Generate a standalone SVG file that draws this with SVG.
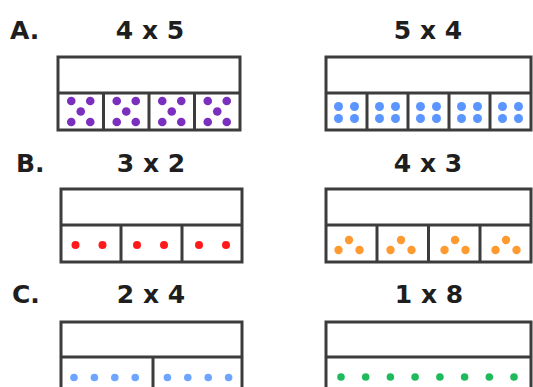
<svg xmlns="http://www.w3.org/2000/svg" width="533" height="387" viewBox="0 0 533 387">
<style>
.t{font-family:"DejaVu Sans","Liberation Sans",sans-serif;font-weight:bold;font-size:25px;fill:#1e1e1e}
.c{text-anchor:middle}
.f{fill:#fff;stroke:#3c3c3c;stroke-width:3}
.l{stroke:#3c3c3c;stroke-width:3;fill:none}
.pu{fill:#7b2fbe}.bl{fill:#5b95ff}.rd{fill:#ff1a1a}.or{fill:#ff9a30}.lb{fill:#6ea6ff}.gr{fill:#1fba5c}
</style>
<defs>
<g id="px"><circle cx="-9.5" cy="-10.5" r="4.3"/><circle cx="9.5" cy="-10.5" r="4.3"/><circle cx="0" cy="0" r="4.3"/><circle cx="-9.5" cy="10.5" r="4.3"/><circle cx="9.5" cy="10.5" r="4.3"/></g>
<g id="b4"><circle cx="-8" cy="-6" r="4.5"/><circle cx="8" cy="-6" r="4.5"/><circle cx="-8" cy="6" r="4.5"/><circle cx="8" cy="6" r="4.5"/></g>
<g id="r2"><circle cx="-13.5" cy="0" r="4"/><circle cx="13.5" cy="0" r="4"/></g>
<g id="o3"><circle cx="0" cy="-5" r="4.2"/><circle cx="-10.5" cy="5" r="4.2"/><circle cx="10.5" cy="5" r="4.2"/></g>
<g id="l4"><circle cx="-30.6" cy="0" r="3.8"/><circle cx="-10.2" cy="0" r="3.8"/><circle cx="10.2" cy="0" r="3.8"/><circle cx="30.6" cy="0" r="3.8"/></g>
</defs>

<g id="labelA"><text class="t" x="10" y="39">A.</text></g>
<g id="labelB"><text class="t" x="16" y="172">B.</text></g>
<g id="labelC"><text class="t" x="12" y="303">C.</text></g>

<g id="A1">
<text class="t c" x="150" y="39">4 x 5</text>
<rect class="f" x="58" y="57" width="182" height="73"/>
<path class="l" d="M58 93H240M103.5 93V130M149 93V130M194.5 93V130"/>
<g class="pu">
<use href="#px" x="80.75" y="111.5"/><use href="#px" x="126.25" y="111.5"/><use href="#px" x="171.75" y="111.5"/><use href="#px" x="217.25" y="111.5"/>
</g>
</g>

<g id="A2">
<text class="t c" x="428" y="39">5 x 4</text>
<rect class="f" x="326" y="57" width="205" height="73"/>
<path class="l" d="M326 93H531M367 93V130M408 93V130M449 93V130M490 93V130"/>
<g class="bl">
<use href="#b4" x="346.5" y="112.5"/><use href="#b4" x="387.5" y="112.5"/><use href="#b4" x="428.5" y="112.5"/><use href="#b4" x="469.5" y="112.5"/><use href="#b4" x="510.5" y="112.5"/>
</g>
</g>

<g id="B1">
<text class="t c" x="151" y="172">3 x 2</text>
<rect class="f" x="61" y="189" width="181" height="73"/>
<path class="l" d="M61 225H242M121 225V262M182 225V262"/>
<g class="rd">
<use href="#r2" x="89" y="245"/><use href="#r2" x="150.5" y="245"/><use href="#r2" x="212.5" y="245"/>
</g>
</g>

<g id="B2">
<text class="t c" x="428" y="172">4 x 3</text>
<rect class="f" x="326" y="189" width="205" height="73"/>
<path class="l" d="M326 225H531M377 225V262M428.5 225V262M480 225V262"/>
<g class="or">
<use href="#o3" x="349" y="245"/><use href="#o3" x="401" y="245"/><use href="#o3" x="455" y="245"/><use href="#o3" x="506" y="245"/>
</g>
</g>

<g id="C1">
<text class="t c" x="151" y="303">2 x 4</text>
<rect class="f" x="61" y="322" width="181" height="76"/>
<path class="l" d="M61 357H242M153 357V398"/>
<g class="lb">
<use href="#l4" x="104.6" y="377.5"/><use href="#l4" x="198" y="377.5"/>
</g>
</g>

<g id="C2">
<text class="t c" x="429" y="303">1 x 8</text>
<rect class="f" x="326" y="322" width="205" height="76"/>
<path class="l" d="M326 357H531"/>
<g class="gr">
<circle cx="341" cy="377" r="3.8"/><circle cx="365.7" cy="377" r="3.8"/><circle cx="390.4" cy="377" r="3.8"/><circle cx="415.1" cy="377" r="3.8"/><circle cx="439.9" cy="377" r="3.8"/><circle cx="464.6" cy="377" r="3.8"/><circle cx="489.3" cy="377" r="3.8"/><circle cx="514" cy="377" r="3.8"/>
</g>
</g>

<g id="connectors"></g>
</svg>
